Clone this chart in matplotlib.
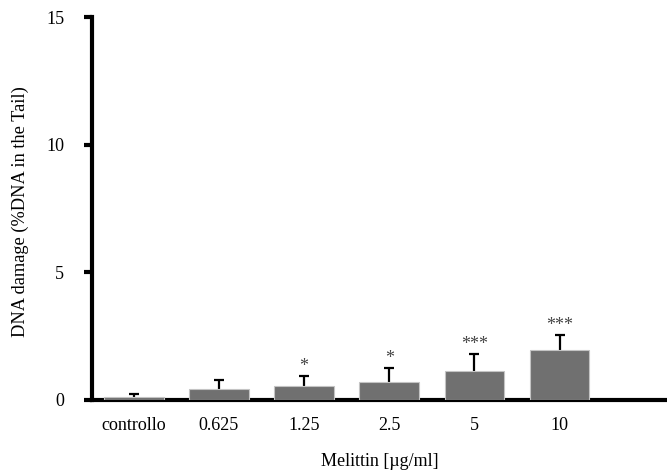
import matplotlib
matplotlib.use("Agg")
import matplotlib.pyplot as plt
import numpy as np

categories = ["controllo", "0.625", "1.25", "2.5", "5", "10"]
values = [0.12, 0.42, 0.55, 0.72, 1.15, 1.95]
errors = [0.10, 0.36, 0.40, 0.52, 0.65, 0.60]
stars = ["", "", "*", "*", "***", "***"]

plt.rcParams['font.family'] = ['Liberation Serif', 'DejaVu Serif']

fig = plt.figure(figsize=(6.67, 4.70), dpi=100)
ax = fig.add_axes([92/667, 70/470, (667-92)/667, (400-17)/470])

x = np.arange(len(categories))
vals = np.array(values)
errs = np.array(errors)
ax.bar(x, vals, width=0.7, color="#707070", edgecolor="#c4c4c4", linewidth=0.8, zorder=3)
ax.vlines(x, vals, vals + errs, color="black", linewidth=1.6, zorder=2)
ax.plot(x, vals + errs, linestyle="none", marker="_", markersize=7,
        markeredgewidth=1.6, color="black", zorder=2)
for xi, v, e, s in zip(x, vals, errs, stars):
    if s:
        ax.text(xi, v + e + 0.04, s, ha="center", va="bottom", fontsize=13, color="#444444")

ax.set_xlim(-0.49, 6.26)
ax.set_ylim(0, 15)
ax.set_yticks([0, 5, 10, 15])
ax.set_xticks(x)
ax.set_xticklabels(categories)
ax.tick_params(axis="x", length=0, pad=12, labelsize=13)
ax.tick_params(axis="y", length=6, width=3, direction="out", pad=14, labelsize=13)
for s in ["top", "right"]:
    ax.spines[s].set_visible(False)
for s in ["left", "bottom"]:
    ax.spines[s].set_linewidth(3)
ax.set_xlabel("Melittin [µg/ml]", fontsize=13, labelpad=14)
ax.set_ylabel("DNA damage (%DNA in the Tail)", fontsize=13.2)
ax.yaxis.set_label_coords((29 - 92) / 575, (400 - 212) / 383)

fig.savefig("out.png", dpi=100)
